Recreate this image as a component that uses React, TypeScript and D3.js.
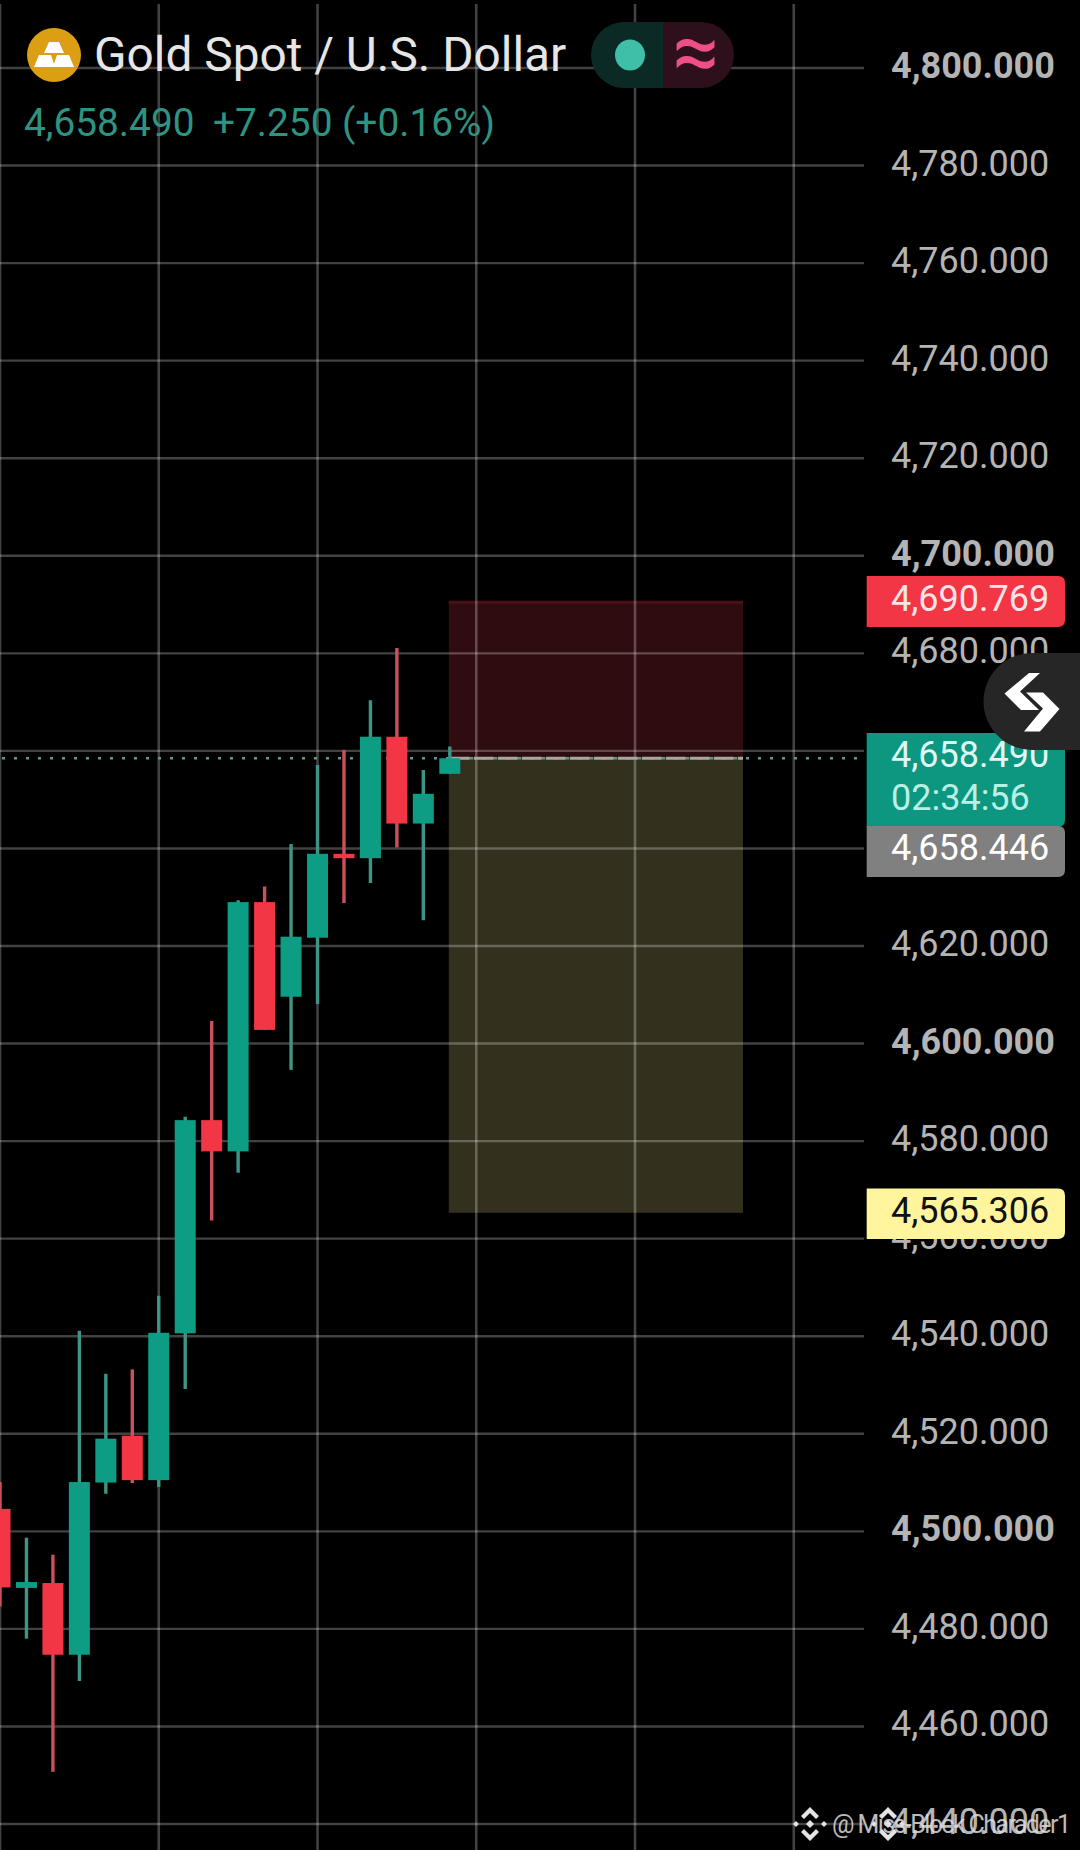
import React from "react";
import * as d3 from "d3";

const axisTicks = [4800, 4780, 4760, 4740, 4720, 4700, 4680, 4660, 4640, 4620, 4600, 4580, 4560, 4540, 4520, 4500, 4480, 4460, 4440];
const timeTicks = [0, 6, 12, 18, 24, 30];
const opens = [4504.6, 4488.4, 4489.4, 4474.7, 4510.0, 4519.6, 4510.5, 4540.6, 4584.3, 4577.9, 4629.0, 4609.6, 4621.7, 4638.9, 4638.0, 4662.9, 4645.1, 4655.3];
const closes = [4488.5, 4489.6, 4474.7, 4510.1, 4519.0, 4510.5, 4540.7, 4584.3, 4577.9, 4629.0, 4602.8, 4621.9, 4638.9, 4638.0, 4662.9, 4645.1, 4651.2, 4658.49];
const highs = [4510.1, 4498.7, 4495.2, 4541.1, 4532.3, 4533.2, 4548.3, 4585.0, 4604.6, 4629.4, 4632.2, 4640.9, 4657.1, 4660.2, 4670.4, 4681.1, 4656.1, 4660.9];
const lows = [4484.6, 4478.0, 4450.7, 4469.3, 4507.7, 4509.9, 4509.1, 4529.2, 4563.7, 4573.5, 4602.8, 4594.6, 4608.1, 4628.8, 4632.9, 4640.2, 4625.3, 4655.3];
const lastPrice = 4658.49;
const stopPrice = 4690.769;
const targetPrice = 4565.306;
const markPrice = 4658.446;
const title = "Gold Spot / U.S. Dollar";

const W = 1080;
const H = 1850;
const FONT = "Roboto, sans-serif";
const y = d3.scaleLinear().domain([4800, 4440]).range([68, 1824]);
const x = d3.scaleLinear().domain([0, 17]).range([0, 449.8]);
const fmt = d3.format(",.3f");

const GREEN = "#0d9d85";
const RED = "#f23645";
const GRID = "rgba(255,255,255,0.26)";
const PLOT_RIGHT = 864;
const LABEL_TX = 891;
const LABEL_SIZE = 36;

function Tag({ yTop, yBot, fill }: { yTop: number; yBot: number; fill: string }) {
  const l = 866.7, r = 1065, c = 7;
  return (
    <path
      d={`M${l},${yTop}H${r - c}Q${r},${yTop} ${r},${yTop + c}V${yBot - c}Q${r},${yBot} ${r - c},${yBot}H${l}Z`}
      fill={fill}
    />
  );
}

function Binance({ cx, cy, s }: { cx: number; cy: number; s: number }) {
  const c = "#e4e4e4";
  return (
    <g transform={`translate(${cx},${cy}) scale(${s})`} fill={c}>
      <path d="M0,-4L4,0L0,4L-4,0Z" />
      <path d="M-14,-3L-11,0L-14,3L-17,0Z" />
      <path d="M14,-3L17,0L14,3L11,0Z" />
      <path d="M0,-17L9,-8L6,-5L0,-11L-6,-5L-9,-8Z" />
      <path d="M0,17L9,8L6,5L0,11L-6,5L-9,8Z" />
    </g>
  );
}

export default function App() {
  return (
    <div style={{ position: "absolute", left: 0, top: 0, width: W, height: H, background: "#000" }}>
      <svg width={W} height={H} viewBox={`0 0 ${W} ${H}`} style={{ display: "block", background: "#000" }} fontFamily={FONT}>
        {/* Position tool */}
        <rect x={x(17) - 1} width={743 - x(17) + 1} y={y(stopPrice)} height={y(lastPrice) - y(stopPrice)} fill="#2f0c10" />
        <rect x={x(17) - 1} width={743 - x(17) + 1} y={y(stopPrice)} height={3} fill="#4a1018" />
        <rect x={x(17) - 1} width={743 - x(17) + 1} y={y(lastPrice)} height={y(targetPrice) - y(lastPrice)} fill="#33311e" />

        {/* Grid */}
        {axisTicks.map((t) => (
          <line key={t} x1={0} x2={PLOT_RIGHT} y1={y(t)} y2={y(t)} stroke={GRID} strokeWidth={2.4} />
        ))}
        {timeTicks.map((t) => (
          <line key={t} x1={x(t)} x2={x(t)} y1={4} y2={H} stroke={GRID} strokeWidth={2.6} />
        ))}

        {/* Last price dotted line */}
        <line x1={2} x2={PLOT_RIGHT} y1={y(lastPrice)} y2={y(lastPrice)} stroke="#5f9a8e" strokeWidth={2.5} strokeDasharray="3 9" />
        <line x1={x(17)} x2={743} y1={y(lastPrice)} y2={y(lastPrice)} stroke="#a8a8a0" strokeWidth={3} strokeDasharray="20 4" />

        {/* Candles */}
        {opens.map((o, i) => {
          const c = closes[i];
          const up = c >= o;
          const cx = x(i);
          const top = y(Math.max(o, c));
          const bot = y(Math.min(o, c));
          return (
            <g key={i}>
              <line x1={cx} x2={cx} y1={y(highs[i])} y2={y(lows[i])} stroke={up ? "#3f9585" : "#c9505c"} strokeWidth={3.4} />
              <rect x={cx - 10.5} width={21} y={top} height={Math.max(bot - top, 4)} fill={up ? GREEN : RED} />
            </g>
          );
        })}

        {/* Axis labels */}
        {axisTicks.map((t) => (
          <text
            key={t}
            x={LABEL_TX}
            y={y(t) + 10}
            fontSize={LABEL_SIZE}
            fontWeight={t % 100 === 0 ? 700 : 400}
            fill="#b4b4b4"
          >
            {fmt(t)}
          </text>
        ))}

        {/* Price tags */}
        <Tag yTop={576} yBot={627} fill="#f23645" />
        <text x={LABEL_TX} y={y(stopPrice) + 10} fontSize={LABEL_SIZE} fill="#fde4e6">{fmt(stopPrice)}</text>

        <Tag yTop={1188.6} yBot={1239} fill="#fff59d" />
        <text x={LABEL_TX} y={y(targetPrice) + 10} fontSize={LABEL_SIZE} fill="#111">{fmt(targetPrice)}</text>

        <Tag yTop={733} yBot={827} fill="#0d9680" />
        <text x={LABEL_TX} y={767} fontSize={LABEL_SIZE} fill="#dff8f3">{fmt(lastPrice)}</text>
        <text x={LABEL_TX} y={810} fontSize={LABEL_SIZE} fill="#b8f0e4">02:34:56</text>

        <Tag yTop={826} yBot={877} fill="#808080" />
        <text x={LABEL_TX} y={860} fontSize={LABEL_SIZE} fill="#fff">{fmt(markPrice)}</text>

        {/* Floating button */}
        <path d="M1080,653H1032A48.5,48.5 0 0 0 1032,750H1080Z" fill="#262626" />
        <path d="M1029,673L1040,673L1020,691.5L1039,710L1021,710L1004.5,693.5Z" fill="#fff" />
        <path d="M1059.5,709L1043,692.5L1026,692.5L1043,708.5L1024,731.5L1040,731.5Z" fill="#fff" />

        {/* Header */}
        <circle cx={54} cy={55} r={27} fill="#dc9f13" />
        <path d="M49,42H59L64,53H44Z" fill="#fff" />
        <path d="M39,55H51L55,67H34Z" fill="#fff" />
        <path d="M57,55H69L74,67H53Z" fill="#fff" />
        <text x={94} y={71} fontSize={47.8} fill="#e6e6e6">{title}</text>
        <text x={24} y={136} fontSize={38.8} fill="#2f9382">{fmt(lastPrice)}</text>
        <text x={213} y={136} fontSize={38.8} fill="#2f9382">+7.250 (+0.16%)</text>

        <path d="M663,22H624A33,33 0 0 0 624,88H663Z" fill="#0b2a26" />
        <path d="M663,22H701A33,33 0 0 1 701,88H663Z" fill="#2e0f1c" />
        <ellipse cx={630} cy={55} rx={15} ry={15.5} fill="#40bfa8" />
        <text x={696} y={80} fontSize={83} fontWeight={400} fill="#ee4f87" textAnchor="middle">≈</text>

        {/* Watermark */}
        <Binance cx={810} cy={1824} s={1} />
        <Binance cx={888} cy={1824} s={1} />
        <text x={832} y={1833} fontSize={25} fill="#dcdcdc" opacity={0.85} textLength={239} lengthAdjust="spacing">@ Miss-Block Charader1</text>
      </svg>
    </div>
  );
}
